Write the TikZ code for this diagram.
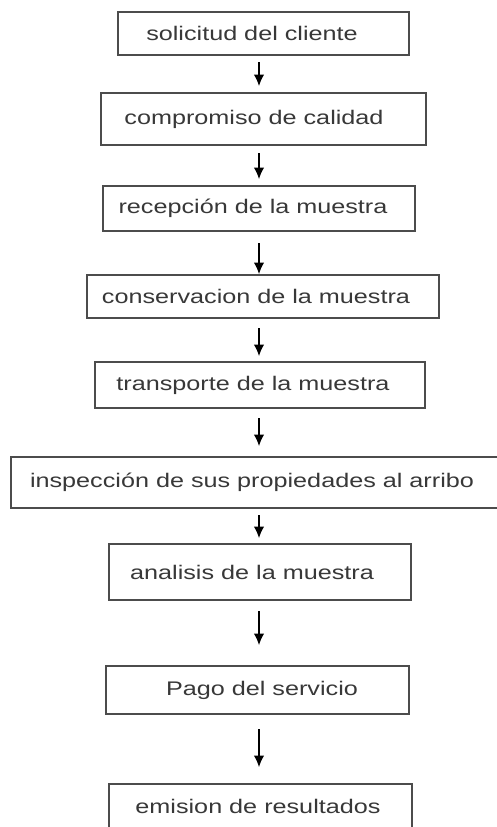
\documentclass[tikz,border=0pt]{standalone}
\usepackage{fontspec}
\setmainfont{Liberation Sans}[FakeStretch=1.28]
\usetikzlibrary{positioning,arrows.meta}

\begin{document}
\begin{tikzpicture}[flow/.style={-{Latex[length=2.3mm,width=2.1mm]}, line width=0.7pt}, stepbox/.style={rectangle, draw=black!70, line width=0.9pt, outer sep=0pt, text=black!78, font=\fontsize{11.2}{14}\selectfont}, tshift/.style={execute at end node={\hspace*{#1}}}]

        \clip (0,0) rectangle (9.94,-16.54);
        \fill[white] (0,0) rectangle (9.94,-16.54);

        \node[stepbox, minimum width=5.82cm, minimum height=0.86cm, tshift=0.46cm] (solicitud) at (5.27,-0.67) {solicitud del cliente};
        \node[stepbox, minimum width=6.50cm, minimum height=1.04cm, tshift=0.38cm] (compromiso) [below=0.76cm of solicitud] {compromiso de calidad};
        \node[stepbox, minimum width=6.24cm, minimum height=0.90cm, tshift=0.24cm] (recepcion) [below=0.82cm of compromiso, xshift=-0.09cm] {recepción de la muestra};
        \node[stepbox, minimum width=7.04cm, minimum height=0.86cm, tshift=0.28cm] (conservacion) [below=0.88cm of recepcion, xshift=0.08cm] {conservacion de la muestra};
        \node[stepbox, minimum width=6.60cm, minimum height=0.92cm, tshift=0.28cm] (transporte) [below=0.88cm of conservacion, xshift=-0.06cm] {transporte de la muestra};
        \node[stepbox, minimum width=9.88cm, minimum height=1.02cm, tshift=0.24cm] (inspeccion) [below=0.98cm of transporte, xshift=-0.04cm] {inspección de sus propiedades al arribo};
        \node[stepbox, minimum width=6.04cm, minimum height=1.12cm, tshift=0.32cm] (analisis) [below=0.72cm of inspeccion, xshift=0.04cm] {analisis de la muestra};
        \node[stepbox, minimum width=6.06cm, minimum height=0.96cm, tshift=-0.18cm] (pago) [below=1.32cm of analisis, xshift=-0.05cm] {Pago del servicio};
        \node[stepbox, minimum width=6.06cm, minimum height=0.88cm, tshift=0.10cm] (emision) [below=1.40cm of pago, xshift=0.06cm] {emision de resultados};

        % Arrows
        \coordinate (axis) at (5.18,0);
        \foreach \a/\b/\s/\e in {solicitud/compromiso/0.14cm/0.14cm, compromiso/recepcion/0.16cm/0.14cm, recepcion/conservacion/0.24cm/0.02cm, conservacion/transporte/0.20cm/0.12cm, transporte/inspeccion/0.20cm/0.22cm, inspeccion/analisis/0.14cm/0.12cm, analisis/pago/0.22cm/0.42cm, pago/emision/0.30cm/0.34cm} {
            \draw[flow, shorten <=\s, shorten >=\e] (\a.south -| axis) -- (\b.north -| axis);
        }
    \end{tikzpicture}
\end{document}
